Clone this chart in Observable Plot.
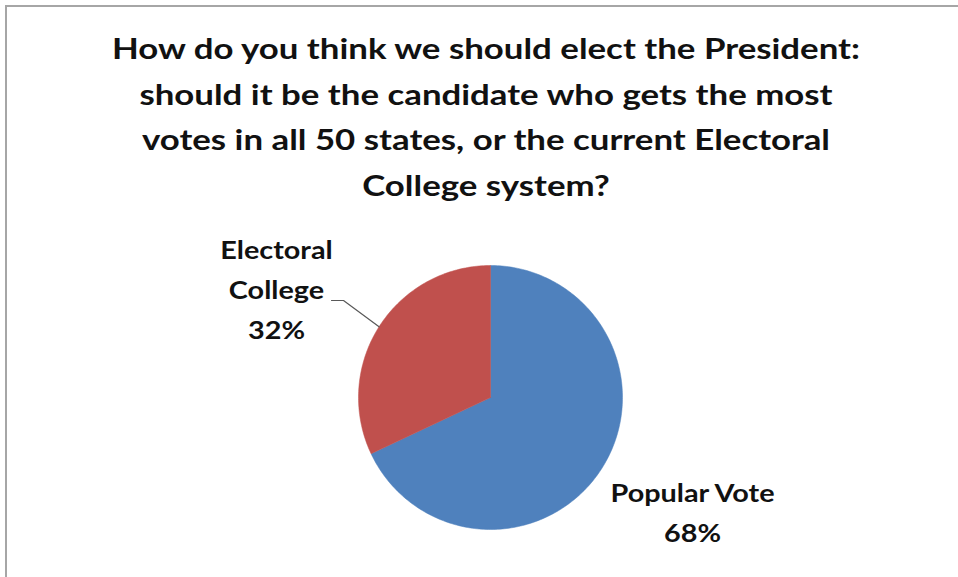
<!DOCTYPE html>
<html>
<head>
<meta charset="utf-8">
<script src="https://cdn.jsdelivr.net/npm/d3@7"></script>
<script src="https://cdn.jsdelivr.net/npm/@observablehq/plot@0.6"></script>
<style>
  html, body { margin: 0; padding: 0; background: #fff; }
  #frame { position: relative; width: 958px; height: 577px; overflow: hidden; background: #fff; }
  #border { position: absolute; left: 5px; top: 5px; width: 1000px; height: 1000px;
            border-top: 2px solid #a6a6a6; border-left: 2px solid #a6a6a6; box-sizing: border-box; }
  #title { position: absolute; left: 7px; top: 25px; width: 958px; text-align: center;
           font-family: Lato, "Open Sans", sans-serif; font-weight: 700; font-size: 29px;
           line-height: 45.7px; color: #111;
           transform: scaleX(1.2); transform-origin: 479px 0; }
  #chart { position: absolute; left: 0; top: 215px; }
</style>
</head>
<body>
<div id="frame">
  <div id="border"></div>
  <div id="title">How do you think we should elect the President:<br>should it be the candidate who gets the most<br>votes in all 50 states, or the current Electoral<br>College system?</div>
  <div id="chart"></div>
</div>
<script>
// ---- data ----
const categories = ["Popular Vote", "Electoral College"];
const labelText = ["Popular Vote", "Electoral\nCollege"];
const values = [68, 32];
const colors = ["#4F81BD", "#C0504D"];

// ---- layout ----
const W = 958, H = 362;
const cx = 490, cy = 182, r = 132;

const pie = d3.pie().sort(null).value(d => d.value)(
  categories.map((c, i) => ({ name: c, value: values[i], label: labelText[i] }))
);

// polygon points for each slice
const slicePts = [];
for (const a of pie) {
  const n = Math.max(2, Math.ceil((a.endAngle - a.startAngle) / (Math.PI / 180)));
  slicePts.push({ name: a.data.name, x: cx, y: cy });
  for (let k = 0; k <= n; k++) {
    const t = a.startAngle + (a.endAngle - a.startAngle) * k / n;
    slicePts.push({ name: a.data.name, x: cx + r * Math.sin(t), y: cy - r * Math.cos(t) });
  }
  slicePts.push({ name: a.data.name, x: cx, y: cy });
}

// leader line for Electoral College (to the middle of its arc)
const ec = pie[1];
const mid = (ec.startAngle + ec.endAngle) / 2;
const leader = [
  { x: 331, y: 85 },
  { x: 343, y: 85 },
  { x: cx + r * Math.sin(mid), y: cy - r * Math.cos(mid) }
];

// label positions (baseline of last line)
const labels = [
  { text: `${pie[0].data.label}\n${pie[0].data.value}%`, x: 692, y: 326.7 },
  { text: `${pie[1].data.label}\n${pie[1].data.value}%`, x: 276, y: 123.5 }
];

const plot = Plot.plot({
  width: W, height: H,
  margin: 0,
  x: { domain: [0, W], range: [0, W], axis: null },
  y: { domain: [0, H], range: [0, H], axis: null },
  color: { domain: categories, range: colors },
  style: { background: "transparent", overflow: "visible" },
  marks: [
    Plot.line(slicePts, { x: "x", y: "y", z: "name", fill: "name", stroke: "name", strokeWidth: 0.5, curve: "linear" }),
    Plot.line(leader, { x: "x", y: "y", stroke: "#595959", strokeWidth: 1.2 }),
    Plot.text(labels, {
      x: "x", y: "y", text: "text", lineAnchor: "bottom", lineHeight: 1.66,
      textAnchor: "middle", fontFamily: "Lato, 'Open Sans', sans-serif",
      fontWeight: 700, fontSize: 24, fill: "#111"
    })
  ]
});
// widen the label glyphs horizontally to match the reference's wide face
plot.querySelectorAll('g[aria-label="text"] text').forEach(t => {
  const tr = t.getAttribute("transform") || "";
  t.setAttribute("transform", tr + " scale(1.2,1)");
});
document.getElementById("chart").appendChild(plot);
</script>
</body>
</html>
